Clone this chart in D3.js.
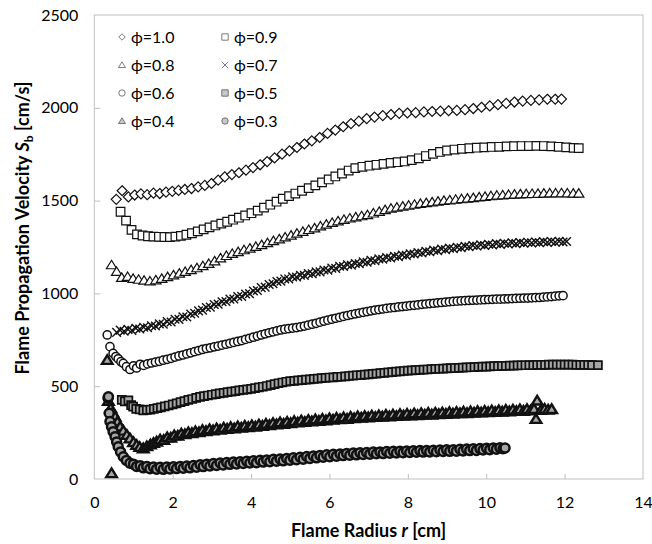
<!DOCTYPE html>
<html>
<head>
<meta charset="utf-8">
<script src="https://cdn.jsdelivr.net/npm/d3@7"></script>
<style>
  body { margin: 0; background: #fff; }
  svg text { font-family: Lato, "DejaVu Sans", sans-serif; fill: #000; }
</style>
</head>
<body>
<div id="chart"></div>
<script>
// Axis ticks
const xTicks = [0, 2, 4, 6, 8, 10, 12, 14];
const yTicks = [0, 500, 1000, 1500, 2000, 2500];

// Series labels, in legend order
const phiLabels = ["ϕ=1.0", "ϕ=0.9", "ϕ=0.8", "ϕ=0.7", "ϕ=0.6", "ϕ=0.5", "ϕ=0.4", "ϕ=0.3"];

// [flame radius r (cm), propagation velocity Sb (cm/s)]
const phi10 = [[0.56,1507],[0.71,1553],[0.87,1520],[1.03,1530],[1.19,1536],[1.35,1532],[1.51,1540],[1.67,1538],[1.83,1546],[1.99,1550],[2.15,1555],[2.31,1560],[2.48,1565],[2.65,1574],[2.82,1582],[2.99,1592],[3.16,1610],[3.33,1628],[3.51,1640],[3.69,1650],[3.87,1664],[4.05,1678],[4.23,1693],[4.41,1710],[4.60,1730],[4.79,1750],[4.98,1768],[5.17,1786],[5.36,1805],[5.55,1822],[5.75,1840],[5.95,1862],[6.15,1880],[6.35,1898],[6.55,1915],[6.75,1928],[6.95,1942],[7.15,1950],[7.36,1958],[7.57,1964],[7.78,1970],[7.99,1972],[8.20,1974],[8.41,1978],[8.62,1980],[8.83,1982],[9.04,1984],[9.25,1986],[9.46,1990],[9.67,1996],[9.88,2003],[10.09,2010],[10.30,2017],[10.51,2024],[10.72,2031],[10.93,2036],[11.14,2040],[11.35,2043],[11.56,2046],[11.76,2046],[11.92,2047]];

const phi09 = [[0.67,1440],[0.81,1392],[0.95,1342],[1.09,1318],[1.23,1312],[1.37,1308],[1.51,1306],[1.65,1305],[1.79,1304],[1.93,1303],[2.07,1306],[2.21,1310],[2.35,1316],[2.49,1324],[2.64,1334],[2.79,1345],[2.94,1356],[3.09,1366],[3.24,1376],[3.39,1386],[3.54,1397],[3.69,1408],[3.85,1420],[4.01,1432],[4.17,1446],[4.33,1462],[4.49,1478],[4.65,1494],[4.81,1510],[4.97,1524],[5.13,1538],[5.30,1553],[5.47,1567],[5.64,1582],[5.81,1598],[5.98,1614],[6.15,1630],[6.32,1646],[6.49,1662],[6.66,1675],[6.84,1682],[7.02,1688],[7.20,1693],[7.38,1698],[7.56,1703],[7.74,1707],[7.92,1711],[8.10,1718],[8.28,1728],[8.46,1740],[8.64,1752],[8.82,1762],[9.00,1770],[9.19,1775],[9.38,1779],[9.57,1782],[9.76,1785],[9.95,1787],[10.14,1789],[10.33,1790],[10.52,1792],[10.71,1793],[10.90,1794],[11.09,1794],[11.28,1795],[11.47,1794],[11.66,1792],[11.85,1790],[12.04,1787],[12.23,1784],[12.36,1783]];

const phi08 = [[0.44,1153],[0.57,1117],[0.70,1085],[0.85,1090],[0.99,1080],[1.13,1075],[1.27,1070],[1.42,1066],[1.57,1072],[1.72,1080],[1.87,1089],[2.02,1099],[2.17,1108],[2.32,1117],[2.47,1127],[2.62,1137],[2.77,1148],[2.92,1160],[3.07,1174],[3.22,1190],[3.37,1203],[3.52,1214],[3.67,1224],[3.82,1234],[3.97,1243],[4.12,1252],[4.27,1262],[4.42,1272],[4.57,1283],[4.72,1293],[4.87,1303],[5.02,1313],[5.17,1323],[5.32,1333],[5.47,1343],[5.62,1352],[5.77,1362],[5.92,1372],[6.07,1381],[6.22,1390],[6.37,1398],[6.52,1405],[6.67,1411],[6.82,1417],[6.97,1423],[7.12,1432],[7.27,1441],[7.42,1450],[7.57,1458],[7.72,1464],[7.87,1469],[8.02,1474],[8.17,1479],[8.32,1484],[8.47,1488],[8.62,1492],[8.77,1496],[8.92,1500],[9.07,1503],[9.22,1506],[9.37,1509],[9.52,1512],[9.67,1515],[9.82,1519],[9.97,1522],[10.12,1525],[10.27,1528],[10.42,1530],[10.57,1532],[10.72,1534],[10.87,1535],[11.02,1536],[11.17,1537],[11.32,1538],[11.47,1539],[11.62,1540],[11.77,1540],[11.92,1541],[12.07,1540],[12.22,1539],[12.36,1539]];

const phi07 = [[0.57,790],[0.66,802],[0.76,796],[0.86,806],[0.96,801],[1.06,812],[1.16,808],[1.26,818],[1.36,815],[1.46,826],[1.56,824],[1.66,836],[1.76,834],[1.86,848],[1.96,846],[2.06,861],[2.16,860],[2.26,874],[2.36,873],[2.46,889],[2.56,893],[2.66,906],[2.76,910],[2.86,924],[2.96,926],[3.06,940],[3.16,942],[3.26,955],[3.36,956],[3.46,969],[3.56,970],[3.66,983],[3.76,984],[3.86,997],[3.96,999],[4.06,1013],[4.16,1016],[4.26,1031],[4.36,1034],[4.46,1048],[4.56,1052],[4.66,1064],[4.76,1066],[4.86,1078],[4.96,1078],[5.06,1089],[5.16,1088],[5.26,1098],[5.36,1097],[5.46,1107],[5.56,1106],[5.66,1116],[5.76,1116],[5.86,1126],[5.96,1125],[6.06,1136],[6.16,1135],[6.26,1146],[6.36,1145],[6.46,1154],[6.56,1152],[6.66,1161],[6.76,1160],[6.86,1170],[6.96,1168],[7.06,1178],[7.16,1176],[7.26,1186],[7.36,1184],[7.46,1193],[7.56,1191],[7.66,1200],[7.76,1198],[7.86,1207],[7.96,1205],[8.06,1214],[8.16,1212],[8.26,1220],[8.36,1218],[8.46,1227],[8.56,1224],[8.66,1233],[8.76,1230],[8.86,1239],[8.96,1236],[9.06,1244],[9.16,1241],[9.26,1249],[9.36,1246],[9.46,1254],[9.56,1251],[9.66,1258],[9.76,1255],[9.86,1262],[9.96,1258],[10.06,1265],[10.16,1261],[10.26,1268],[10.36,1264],[10.46,1270],[10.56,1266],[10.66,1272],[10.76,1268],[10.86,1274],[10.96,1270],[11.06,1276],[11.16,1272],[11.26,1277],[11.36,1273],[11.46,1279],[11.56,1275],[11.66,1280],[11.76,1276],[11.86,1281],[11.96,1277],[12.05,1280]];

const phi06 = [[0.33,776],[0.40,713],[0.48,677],[0.55,660],[0.61,648],[0.68,632],[0.74,623],[0.82,605],[0.91,590],[1.00,610],[1.08,598],[1.17,618],[1.26,612],[1.36,620],[1.46,625],[1.56,630],[1.66,634],[1.76,640],[1.86,645],[1.96,650],[2.06,657],[2.16,663],[2.26,668],[2.36,674],[2.46,680],[2.56,686],[2.66,692],[2.76,698],[2.86,703],[2.96,707],[3.06,712],[3.16,716],[3.26,721],[3.36,726],[3.46,731],[3.56,736],[3.66,741],[3.76,746],[3.86,752],[3.96,758],[4.06,764],[4.16,770],[4.26,776],[4.36,782],[4.46,788],[4.56,793],[4.66,798],[4.76,803],[4.86,807],[4.96,810],[5.06,813],[5.16,816],[5.26,820],[5.36,824],[5.46,829],[5.56,834],[5.66,839],[5.76,845],[5.86,851],[5.96,856],[6.06,861],[6.16,866],[6.26,871],[6.36,876],[6.46,881],[6.56,886],[6.66,890],[6.76,894],[6.86,898],[6.96,902],[7.06,906],[7.16,910],[7.26,913],[7.36,916],[7.46,919],[7.56,922],[7.66,924],[7.76,927],[7.86,929],[7.96,931],[8.06,934],[8.16,936],[8.26,938],[8.36,941],[8.46,943],[8.56,945],[8.66,947],[8.76,949],[8.86,951],[8.96,953],[9.06,955],[9.16,957],[9.26,958],[9.36,960],[9.46,961],[9.56,962],[9.66,963],[9.76,964],[9.86,965],[9.96,966],[10.06,967],[10.16,968],[10.26,969],[10.36,969],[10.46,970],[10.56,971],[10.66,972],[10.76,973],[10.86,974],[10.96,975],[11.06,975],[11.16,976],[11.26,977],[11.36,978],[11.46,980],[11.56,981],[11.66,983],[11.76,985],[11.86,987],[11.96,988]];

const phi05 = [[0.70,426],[0.78,418],[0.87,424],[0.94,398],[0.99,390],[1.07,378],[1.16,375],[1.25,370],[1.34,372],[1.43,374],[1.52,378],[1.61,382],[1.70,386],[1.80,391],[1.90,396],[2.00,402],[2.10,408],[2.20,414],[2.30,420],[2.40,426],[2.50,431],[2.60,437],[2.70,442],[2.80,446],[2.90,450],[3.00,454],[3.10,457],[3.20,461],[3.30,464],[3.40,468],[3.50,471],[3.60,474],[3.70,477],[3.80,480],[3.90,483],[4.00,486],[4.10,490],[4.20,494],[4.30,497],[4.40,501],[4.50,506],[4.60,511],[4.70,516],[4.80,520],[4.90,524],[5.00,527],[5.10,529],[5.20,531],[5.30,533],[5.40,535],[5.50,537],[5.60,539],[5.70,541],[5.80,543],[5.90,545],[6.00,547],[6.10,548],[6.20,550],[6.30,551],[6.40,553],[6.50,555],[6.60,557],[6.70,559],[6.80,560],[6.90,562],[7.00,564],[7.10,566],[7.20,568],[7.30,570],[7.40,572],[7.50,574],[7.60,576],[7.70,578],[7.80,580],[7.90,582],[8.00,584],[8.10,585],[8.20,587],[8.30,588],[8.40,589],[8.50,590],[8.60,592],[8.70,593],[8.80,594],[8.90,595],[9.00,596],[9.10,597],[9.20,598],[9.30,599],[9.40,600],[9.50,601],[9.60,602],[9.70,603],[9.80,604],[9.90,605],[10.00,606],[10.10,607],[10.20,608],[10.30,608],[10.40,609],[10.50,610],[10.60,611],[10.70,611],[10.80,612],[10.90,613],[11.00,613],[11.10,614],[11.20,614],[11.30,615],[11.40,615],[11.50,615],[11.60,616],[11.70,616],[11.80,616],[11.90,616],[12.00,616],[12.10,616],[12.20,616],[12.30,615],[12.40,615],[12.50,615],[12.60,615],[12.70,614],[12.85,614]];

const phi04 = [[0.33,641],[0.44,31],[0.36,420],[0.42,381],[0.47,358],[0.53,336],[0.59,308],[0.66,282],[0.74,260],[0.83,237],[0.91,218],[1.00,198],[1.08,183],[1.16,172],[1.25,165],[1.34,176],[1.43,186],[1.51,194],[1.59,201],[1.68,212],[1.77,210],[1.86,224],[1.95,222],[2.04,235],[2.13,233],[2.22,244],[2.31,241],[2.40,251],[2.49,247],[2.58,257],[2.67,252],[2.76,263],[2.85,258],[2.94,268],[3.03,262],[3.12,272],[3.21,265],[3.30,276],[3.39,270],[3.48,279],[3.57,272],[3.66,283],[3.75,276],[3.84,286],[3.93,279],[4.02,289],[4.11,282],[4.20,293],[4.29,286],[4.38,297],[4.47,290],[4.56,301],[4.65,294],[4.74,305],[4.83,297],[4.92,308],[5.01,301],[5.10,312],[5.19,304],[5.28,315],[5.37,307],[5.46,318],[5.55,310],[5.64,321],[5.73,313],[5.82,324],[5.91,316],[6.00,327],[6.09,319],[6.18,329],[6.27,322],[6.36,332],[6.45,324],[6.54,335],[6.63,327],[6.72,337],[6.81,330],[6.90,339],[6.99,332],[7.08,341],[7.17,334],[7.26,343],[7.35,336],[7.44,345],[7.53,337],[7.62,347],[7.71,339],[7.80,349],[7.89,341],[7.98,351],[8.07,343],[8.16,353],[8.25,344],[8.34,354],[8.43,346],[8.52,356],[8.61,347],[8.70,357],[8.79,349],[8.88,358],[8.97,351],[9.06,360],[9.15,352],[9.24,361],[9.33,354],[9.42,363],[9.51,355],[9.60,364],[9.69,357],[9.78,366],[9.87,358],[9.96,367],[10.05,360],[10.14,369],[10.23,361],[10.32,370],[10.41,363],[10.50,372],[10.59,364],[10.68,373],[10.77,366],[10.86,375],[10.95,367],[11.04,376],[11.13,369],[11.22,377],[11.27,323],[11.30,422],[11.40,372],[11.49,378],[11.58,373],[11.67,376]];

const phi03 = [[0.35,435],[0.36,443],[0.38,354],[0.40,310],[0.44,282],[0.48,255],[0.53,228],[0.57,200],[0.61,174],[0.67,146],[0.74,120],[0.82,100],[0.91,85],[1.00,80],[1.08,68],[1.17,72],[1.25,60],[1.34,68],[1.42,55],[1.51,64],[1.59,53],[1.68,63],[1.76,52],[1.85,64],[1.93,54],[2.02,66],[2.10,56],[2.19,68],[2.27,58],[2.36,70],[2.44,60],[2.53,73],[2.61,63],[2.70,77],[2.78,67],[2.87,80],[2.95,70],[3.04,83],[3.12,73],[3.21,86],[3.29,76],[3.38,89],[3.46,79],[3.55,91],[3.63,81],[3.72,93],[3.80,84],[3.89,96],[3.97,86],[4.06,98],[4.14,88],[4.23,101],[4.31,91],[4.40,103],[4.48,93],[4.57,106],[4.65,96],[4.74,108],[4.82,98],[4.91,111],[4.99,101],[5.08,114],[5.16,104],[5.25,117],[5.33,107],[5.42,121],[5.50,111],[5.59,124],[5.67,114],[5.76,127],[5.84,117],[5.93,130],[6.01,120],[6.10,133],[6.18,123],[6.27,135],[6.35,126],[6.44,138],[6.52,128],[6.61,140],[6.69,130],[6.78,142],[6.86,132],[6.95,143],[7.03,134],[7.12,145],[7.20,136],[7.29,146],[7.37,137],[7.46,148],[7.54,139],[7.63,149],[7.71,140],[7.80,150],[7.88,142],[7.97,151],[8.05,143],[8.14,152],[8.22,144],[8.31,153],[8.39,145],[8.48,154],[8.56,146],[8.65,155],[8.73,147],[8.82,156],[8.90,148],[8.99,157],[9.07,149],[9.16,158],[9.24,150],[9.33,160],[9.41,151],[9.50,161],[9.58,153],[9.67,163],[9.75,154],[9.84,164],[9.92,156],[10.01,166],[10.09,158],[10.18,167],[10.26,160],[10.35,168],[10.43,163],[10.48,167]];

const seriesData = [phi10, phi09, phi08, phi07, phi06, phi05, phi04, phi03];

// Marker look per series
const markerStyle = [
	{ shape: "diamond", fill: "#fff", size: 5, stroke: 1.2 },
	{ shape: "square", fill: "#fff", size: 4.3, stroke: 1.2 },
	{ shape: "triangle", fill: "#fff", size: 4.7, stroke: 1.2 },
	{ shape: "cross", fill: "none", size: 4.3, stroke: 1.4 },
	{ shape: "circle", fill: "#fff", size: 4.1, stroke: 1.5 },
	{ shape: "square", fill: "#a6a6a6", size: 4, stroke: 1.7 },
	{ shape: "triangle", fill: "#a6a6a6", size: 4.8, stroke: 2.4 },
	{ shape: "circle", fill: "#a6a6a6", size: 4.5, stroke: 2.5 },
];

// Path for a marker of half-size s centred on 0,0
function markerPath(shape, s) {
	switch (shape) {
		case "diamond":
			return `M0,${-s}L${s},0L0,${s}L${-s},0Z`;
		case "square":
			return `M${-s},${-s}H${s}V${s}H${-s}Z`;
		case "triangle":
			return `M0,${-s}L${s * 1.1},${s * 0.8}H${-s * 1.1}Z`;
		case "cross":
			return `M${-s},${-s}L${s},${s}M${s},${-s}L${-s},${s}`;
		default:
			return `M${s},0A${s},${s} 0 1 1 ${-s},0A${s},${s} 0 1 1 ${s},0Z`;
	}
}

const width = 652, height = 544;
const margin = { top: 15, right: 9, bottom: 65, left: 94.3 };

const svg = d3.select("#chart")
	.append("svg")
	.attr("width", width)
	.attr("height", height);

const x = d3.scaleLinear().domain([0, 14]).range([margin.left, width - margin.right]);
const y = d3.scaleLinear().domain([0, 2500]).range([height - margin.bottom, margin.top]);

// Plot frame
svg.append("rect")
	.attr("x", x(0))
	.attr("y", y(2500))
	.attr("width", x(14) - x(0))
	.attr("height", y(0) - y(2500))
	.attr("fill", "none")
	.attr("stroke", "#bfbfbf");

// Axes with inward ticks
const xAxis = svg.append("g")
	.attr("transform", `translate(0,${y(0)})`)
	.call(d3.axisBottom(x).tickValues(xTicks).tickSize(-5).tickPadding(18).tickFormat(d3.format("d")));
const yAxis = svg.append("g")
	.attr("transform", `translate(${x(0)},0)`)
	.call(d3.axisLeft(y).tickValues(yTicks).tickSize(-6).tickPadding(16).tickFormat(d3.format("d")));

[xAxis, yAxis].forEach((g) => {
	g.select(".domain").remove();
	g.selectAll(".tick line").attr("stroke", "#bfbfbf");
	g.selectAll(".tick text")
		.style("font-size", "16px")
		.style("font-family", "Lato, sans-serif")
		.attr("fill", "#000");
});
xAxis.selectAll(".tick line").filter((d) => d === 0 || d === 14).remove();
yAxis.selectAll(".tick line").filter((d) => d === 0 || d === 2500).remove();

// Data markers
seriesData.forEach((data, i) => {
	const st = markerStyle[i];
	const path = markerPath(st.shape, st.size);
	svg.append("g")
		.selectAll("path")
		.data(data)
		.join("path")
		.attr("transform", (d) => `translate(${x(d[0])},${y(d[1])})`)
		.attr("d", path)
		.attr("fill", st.fill)
		.attr("stroke", "#111")
		.attr("stroke-width", st.stroke);
});

// Legend
const legend = svg.append("g");
phiLabels.forEach((label, i) => {
	const col = i % 2, row = Math.floor(i / 2);
	const mx = col === 0 ? 122 : 225;
	const my = 37 + row * 28;
	const st = markerStyle[i];
	legend.append("path")
		.attr("transform", `translate(${mx},${my})`)
		.attr("d", markerPath(st.shape, 3.2))
		.attr("fill", st.fill === "none" ? "none" : (st.fill === "#fff" ? "#fff" : "#c8c8c8"))
		.attr("stroke", "#595959")
		.attr("stroke-width", 0.8);
	legend.append("text")
		.attr("x", mx + 9)
		.attr("y", my + 6)
		.style("font-size", "16px")
		.text(label);
});

// Axis titles
const xTitle = svg.append("text")
	.attr("x", (x(0) + x(14)) / 2)
	.attr("y", 537)
	.attr("text-anchor", "middle")
	.style("font-size", "18px")
	.style("font-weight", "bold");
xTitle.append("tspan").text("Flame Radius ");
xTitle.append("tspan").style("font-style", "italic").text("r");
xTitle.append("tspan").text(" [cm]");

const yTitle = svg.append("text")
	.attr("transform", "translate(29,228) rotate(-90)")
	.attr("text-anchor", "middle")
	.style("font-size", "18px")
	.style("font-weight", "bold");
yTitle.append("tspan").text("Flame Propagation Velocity ");
yTitle.append("tspan").style("font-style", "italic").text("S");
yTitle.append("tspan").attr("dy", 4).style("font-size", "12px").text("b");
yTitle.append("tspan").attr("dy", -4).text(" [cm/s]");
</script>
</body>
</html>
